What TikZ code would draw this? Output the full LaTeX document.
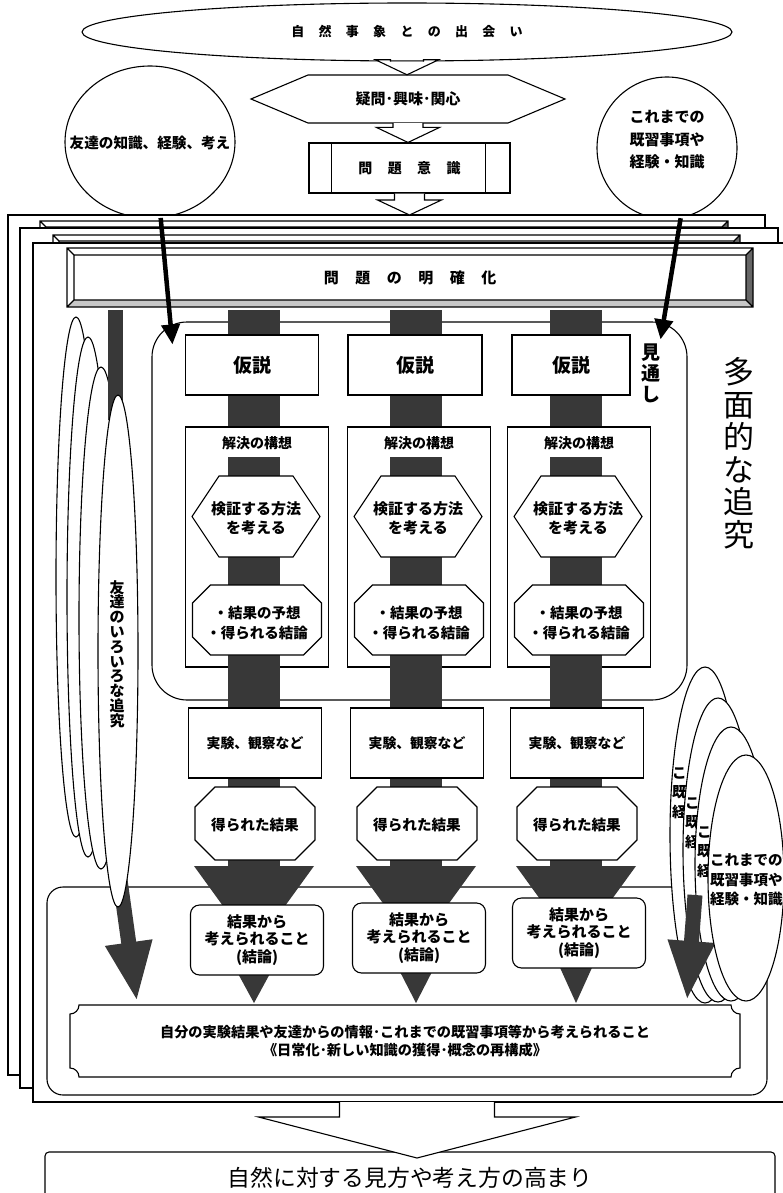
\documentclass[tikz,border=0pt]{standalone}
\usepackage{fontspec}
\newfontfamily\jp{Noto Sans CJK JP}
\usetikzlibrary{arrows.meta,calc,shapes.geometric}
\newcommand\fs[2]{\fontsize{#1}{#2}\selectfont\lineskiplimit=-100pt\relax}
\newcommand\gp{\hspace{1.1em}}
\tikzset{
  ln/.style={line width=1.1pt},
  wbox/.style={draw, fill=white, line width=1.1pt},
  txt/.style={align=center, inner sep=0pt},
  dark/.style={fill=black!78},
  hollow/.style={draw, fill=white, line width=1.1pt, line join=miter},
  thickarr/.style={line width=4.5pt, -{Triangle[length=20pt,width=18pt]}},
  bigarr/.style={line width=15pt, draw=black!78, -{Triangle[length=60pt,width=43pt]}},
  rtxt/.style={align=left, inner sep=0pt, anchor=west, font=\jp\bfseries\fs{14.5}{19.5}},
}
% hollow block arrow between two points (vertical)
\newcommand\harrow[5]{%
  \draw[hollow] let \p1=(#1), \p2=(#2) in
   ({\x1-#3pt},{\y1}) -- ({\x1-#3pt},{\y2+#5pt}) -- ({\x1-#4pt},{\y2+#5pt}) -- (\x1,\y2)
   -- ({\x1+#4pt},{\y2+#5pt}) -- ({\x1+#3pt},{\y2+#5pt}) -- ({\x1+#3pt},{\y1});}
\newcommand\hexshape[5]{\draw[wbox] ({#1-#3},{#2}) -- ({#1-#3+#5},{#2-#4}) -- ({#1+#3-#5},{#2-#4}) -- ({#1+#3},{#2}) -- ({#1+#3-#5},{#2+#4}) -- ({#1-#3+#5},{#2+#4}) -- cycle;}
\newcommand\octshape[5]{\draw[wbox] ({#1-#3},{#2-#4+#5}) -- ({#1-#3+#5},{#2-#4}) -- ({#1+#3-#5},{#2-#4}) -- ({#1+#3},{#2-#4+#5}) -- ({#1+#3},{#2+#4-#5}) -- ({#1+#3-#5},{#2+#4}) -- ({#1-#3+#5},{#2+#4}) -- ({#1-#3},{#2+#4-#5}) -- cycle;}
\newcommand\bevel[5]{%
 \fill[white] (#1,#2) rectangle (#3,#4);
 \fill[black!22] (#1,#4) -- ({#1+#5},{#4-#5}) -- ({#3-#5},{#4-#5}) -- (#3,#4) -- cycle;
 \fill[black!60] (#3,#2) -- ({#3-#5},{#2+#5}) -- ({#3-#5},{#4-#5}) -- (#3,#4) -- cycle;
 \draw[ln] (#1,#2) rectangle (#3,#4) ({#1+#5},{#2+#5}) rectangle ({#3-#5},{#4-#5})
   (#1,#2) -- ({#1+#5},{#2+#5}) (#3,#2) -- ({#3-#5},{#2+#5})
   (#1,#4) -- ({#1+#5},{#4-#5}) (#3,#4) -- ({#3-#5},{#4-#5});}
\newcommand\plaque[5]{\draw[wbox] ({#1+#5},#2) -- ({#3-#5},#2)
 .. controls ({#3-#5},{#2+0.55*#5}) and ({#3-0.55*#5},{#2+#5}) .. (#3,{#2+#5}) -- (#3,{#4-#5})
 .. controls ({#3-0.55*#5},{#4-#5}) and ({#3-#5},{#4-0.55*#5}) .. ({#3-#5},#4) -- ({#1+#5},#4)
 .. controls ({#1+#5},{#4-0.55*#5}) and ({#1+0.55*#5},{#4-#5}) .. (#1,{#4-#5}) -- (#1,{#2+#5})
 .. controls ({#1+0.55*#5},{#2+#5}) and ({#1+#5},{#2+0.55*#5}) .. ({#1+#5},#2) -- cycle;}

\begin{document}
\begin{tikzpicture}[x=1pt,y=-1pt]
\useasboundingbox (0,0) rectangle (783,1193);
\clip (0,0) rectangle (783,1193);

% ---------- top part
\node[wbox, ellipse, minimum width=650pt, minimum height=58pt, inner sep=0pt,
      font=\jp\bfseries\fs{13}{15}] (nat) at (407,32) {自\gp 然\gp 事\gp 象\gp と\gp の\gp 出\gp 会\gp い};
\hexshape{408}{99}{157}{24}{57}
\node[txt, minimum width=314pt, minimum height=48pt, font=\jp\bfseries\fs{15}{17}] (q) at (408,99) {疑問･興味･関心};
\node[wbox, minimum width=201pt, minimum height=50pt, font=\jp\bfseries\fs{14}{16}] (pm) at (409.5,168) {問\gp 題\gp 意\gp 識};
\draw[ln] ($(pm.north west)+(23,0)$) -- ($(pm.south west)+(23,0)$)
          ($(pm.north east)+(-25,0)$) -- ($(pm.south east)+(-25,0)$);
\harrow{nat.south}{q.north}{16.5}{31.5}{15}
\harrow{q.south}{pm.north}{15}{31.5}{15}

\node[wbox, ellipse, minimum width=170pt, minimum height=152pt, inner sep=0pt] (lc) at (150,142) {};
\node[txt, font=\jp\bfseries\fs{14.6}{18}] (lct) at (150,143) {友達の知識、経験、考え};
\node[wbox, ellipse, minimum width=140pt, minimum height=142pt, inner sep=0pt] (rc) at (667,148) {};
\node[txt, font=\jp\bfseries\fs{15}{22.5}] (rct) at (667,140) {これまでの\\既習事項や\\経験・知識};

% ---------- stacked pages
\draw[wbox] (8,215) rectangle (765,1075);
\bevel{40}{221}{728}{280}{6}
\draw[wbox] (20,228) rectangle (778,1088);
\bevel{53}{235}{740}{294}{6}
\draw[wbox] (33,243) rectangle (795,1102);
\bevel{67}{248}{753}{307}{7}
\node[txt, font=\jp\bfseries\fs{15}{17}] (mk) at (410,278) {問\gp 題\gp の\gp 明\gp 確\gp 化};
\coordinate (pg1) at (409.5,215);
\harrow{pm.south}{pg1}{15}{32}{15}

% ---------- containers
\node[wbox, rounded corners=16pt, minimum width=720pt, minimum height=208pt] (ct) at (407,991) {};
\node[wbox, rounded corners=35pt, minimum width=535pt, minimum height=378pt] (mt) at (419.5,511) {};
\plaque{70}{1005}{740}{1077}{9}
\node[txt, font=\jp\bfseries\fs{14.2}{18}] (pl) at (405,1041)
  {自分の実験結果や友達からの情報･これまでの既習事項等から考えられること\\《日常化･新しい知識の獲得･概念の再構成》};

% ---------- left ellipses
\draw[wbox] (76,577) ellipse [x radius=20pt, y radius=260pt];
\draw[wbox] (88,597) ellipse [x radius=21pt, y radius=260pt];
\draw[wbox] (101,618) ellipse [x radius=22pt, y radius=251pt];
\fill[dark] (108,310) rectangle (123,420);
\coordinate (la0) at (120,880);
\coordinate (la1) at (137,1002);
\draw[bigarr] (la0) -- (la1);
\draw[wbox] (118,651) ellipse [x radius=20pt, y radius=256pt];
\node[txt, font=\jp\bfseries\fs{15}{14.8}] (fv) at (117,654) {友\\達\\の\\い\\ろ\\い\\ろ\\な\\追\\究};

% ---------- right ellipses (only the first column of the back copies shows)
\draw[wbox] (705,835) ellipse [x radius=35pt, y radius=168pt];
\node[rtxt] (rt1) at (672,793) {こ\\既\\経};
\draw[wbox] (718,850) ellipse [x radius=35pt, y radius=152pt];
\node[rtxt] (rt2) at (685,823) {こ\\既\\経};
\draw[wbox] (731,864) ellipse [x radius=36pt, y radius=137pt];
\node[rtxt] (rt3) at (697,852) {こ\\既\\経};
\coordinate (ra0) at (695,895);
\coordinate (ra1) at (687,1001);
\draw[bigarr] (ra0) -- (ra1);
\draw[wbox] (746,878) ellipse [x radius=38pt, y radius=123pt];
\node[rtxt] (rt4) at (710,880) {これまでの\\既習事項や\\経験・知識};

% ---------- column bars
\foreach \c in {254,416,576}{
  \fill[dark] (\c-26,310) rectangle (\c+26,870);
}
% ---------- column boxes
\foreach \c/\k/\w/\hx in {254/1/133/252, 416/2/134/415, 576/3/118/571}{
  \node[wbox, minimum width={\w pt}, minimum height=60pt, font=\jp\bfseries\fs{19}{21}] (h\k) at (\hx,365) {仮説};
  \node[wbox, minimum width=143pt, minimum height=240pt] (k\k) at (\c+3,547) {};
  \node[txt, font=\jp\bfseries\fs{14}{16}] (kt\k) at (\c+3,443) {解決の構想};
  \fill[dark] (\c-26,457) rectangle (\c+26,668);
  \hexshape{\c+2}{516.5}{64}{40.5}{27}
  \node[txt, font=\jp\bfseries\fs{15}{19}] (v\k) at (\c+2,518) {検証する方法\\を考える};
  \octshape{\c+3}{620}{64.5}{35}{18}
  \node[txt, font=\jp\bfseries\fs{14.5}{20}] (y\k) at (\c+3,623) {・結果の予想\\・得られる結論};
  \node[wbox, minimum width=133pt, minimum height=70pt, font=\jp\bfseries\fs{13.8}{16}] (x\k) at (\c+1,743) {実験、観察など};
  \octshape{\c+1}{823.5}{60}{36.5}{20}
  \node[txt, font=\jp\bfseries\fs{14.6}{17}] (r\k) at (\c+1,825) {得られた結果};
}
\foreach \c/\k/\dy in {254/1/0, 416/2/-2, 576/3/-7}{
  \fill[dark] (\c-60,866) -- (\c+60,866) -- (\c+31,906) -- (\c-31,906) -- cycle;
  \fill[dark] (\c-19,{968+\dy}) -- (\c+19,{968+\dy}) -- (\c,1003) -- cycle;
  \node[wbox, align=center, rounded corners=9pt, minimum width=133pt, minimum height=70pt,
        font=\jp\bfseries\fs{15}{17.5}] (z\k) at (\c+3,{940+\dy}) {結果から\\考えられること\\(結論)};
}

% ---------- thick arrows from circles
\coordinate (mtl) at ($(mt.north west)+(21,23)$);
\coordinate (mtr) at ($(mt.north east)+(-27,18)$);
\draw[thickarr] (lc.-82) -- (mtl);
\draw[thickarr] (rc.-79) -- (mtr);

% ---------- vertical labels
\node[txt, font=\jp\bfseries\fs{19}{21}] (mts) at (651,373) {見\\通\\し};
\node[txt, font=\jp\fs{31}{32.5}] (tm) at (739,453) {多\\面\\的\\な\\追\\究};

% ---------- bottom
\coordinate (pg3s) at (417,1102);
\node[wbox, rounded corners=4pt, minimum width=730pt, minimum height=60pt] (fb) at (410,1182) {};
\node[txt, font=\jp\fs{22.8}{25}] (fbt) at (410,1178) {自然に対する見方や考え方の高まり};
\coordinate (fbtip) at (417,1158);
\harrow{pg3s}{fbtip}{77.5}{158.5}{41}
\end{tikzpicture}
\end{document}
